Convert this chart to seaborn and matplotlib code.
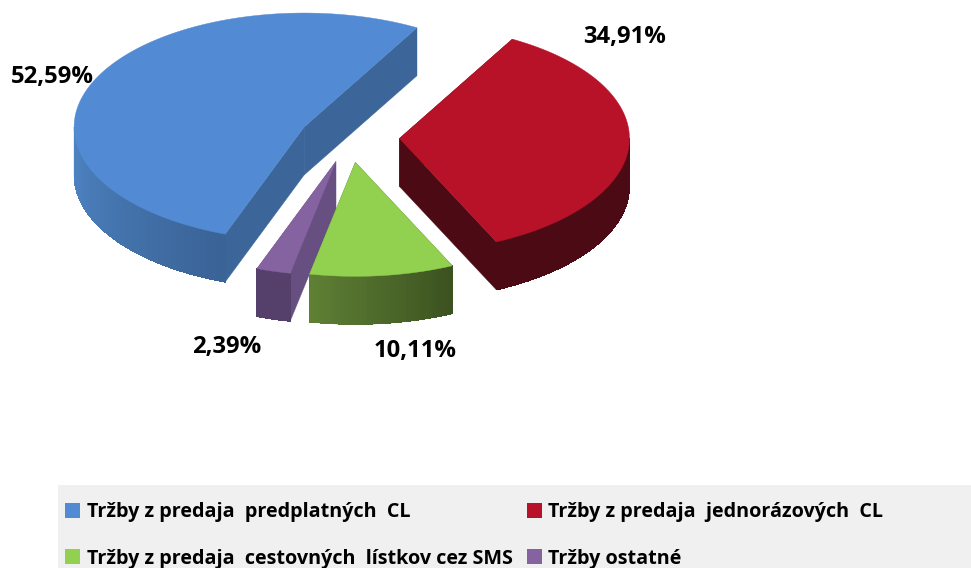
import numpy as np
import seaborn as sns
import matplotlib.pyplot as plt
from matplotlib.patches import Polygon, Rectangle, Patch
from matplotlib.colors import to_rgb

# values
labels = ['Tržby z predaja  predplatných  CL', 'Tržby z predaja  jednorázových  CL',
          'Tržby z predaja  cestovných  lístkov cez SMS', 'Tržby ostatné']
shares = [52.59, 34.91, 10.11, 2.39]
pct_text = ['52,59%', '34,91%', '10,11%', '2,39%']

top_colors = ['#528bd3', '#b81228', '#92d050', '#8463a0']
cut_colors = ['#3c6699', '#4c0a14', '#4f6f2c', '#674f82']
side_from = ['#4f86c6', '#4c0a14', '#5f8035', '#553f6b']  # left end of the visible rim
side_to = ['#3a6396', '#4c0a14', '#3b5220', '#553f6b']  # right end of the visible rim
label_pos = [(52, 77), (625, 37), (415, 351), (227, 347)]

# pie geometry in pixels
cx, cy = 349.5, 137.5
rx, ry = 230, 114
depth = 48
explode = 50
start_angle = 60.6

sns.set_theme(style='white')
plt.rcParams['font.family'] = ['Open Sans', 'DejaVu Sans']

fig = plt.figure(figsize=(9.71, 5.68), dpi=100)
ax = fig.add_axes([0, 0, 1, 1])
ax.set_xlim(0, 971)
ax.set_ylim(568, 0)
ax.axis('off')


def pt(c, ang):
    a = np.radians(ang)
    return np.array([c[0] + rx * np.cos(a), c[1] - ry * np.sin(a)])


def draw_slice(a0, a1, i, z):
    # a0 < a1 in degrees, counter clockwise
    mid = np.radians((a0 + a1) / 2)
    tip = np.array([cx + explode * np.cos(mid), cy - explode / 2 * np.sin(mid)])
    down = np.array([0, depth])
    cl, cr = np.array(to_rgb(side_from[i])), np.array(to_rgb(side_to[i]))

    # the two cut faces, the rim and top hide the ones facing away
    for a in (a0, a1):
        p = pt(tip, a)
        ax.add_patch(Polygon([tip, p, p + down, tip + down], closed=True, fc=cut_colors[i],
                             ec=cut_colors[i], lw=0.3, zorder=z))

    # outer rim, only the part facing the viewer
    lo, hi = max(a0, 180), min(a1, 360)
    steps = np.linspace(lo, hi, max(int(hi - lo), 2) + 1)
    rim = [pt(tip, s) for s in steps]
    base = rim + [p + down for p in rim[::-1]]
    ax.add_patch(Polygon(base, closed=True, fc=side_to[i], ec=side_to[i], lw=0.3, zorder=z + 0.1))
    for s0, s1 in zip(steps[:-1], steps[1:]):
        t = ((s0 + s1) / 2 - lo) / max(hi - lo, 1)
        col = cl + (cr - cl) * t
        p0, p1 = pt(tip, s0), pt(tip, s1)
        ax.add_patch(Polygon([p0, p1, p1 + down, p0 + down], closed=True, fc=col, ec='none',
                             antialiased=False, zorder=z + 0.2))

    # top surface
    arc = [pt(tip, s) for s in np.linspace(a0, a1, 200)]
    ax.add_patch(Polygon([tip] + arc, closed=True, fc=top_colors[i], ec=top_colors[i], lw=0.3, zorder=z + 0.3))


# blue runs counter clockwise from the start angle, the others clockwise
spans = [s / 100 * 360 for s in shares]
red_end = start_angle - spans[1]
green_end = red_end - spans[2]
purple_end = green_end - spans[3]
ranges = [(start_angle, start_angle + spans[0]),
          (red_end + 360, start_angle + 360),
          (green_end + 360, red_end + 360),
          (purple_end + 360, green_end + 360)]

for i, z in zip([0, 1, 3, 2], [2, 3, 4, 5]):
    draw_slice(ranges[i][0], ranges[i][1], i, z)

# data labels
for txt, (x, y) in zip(pct_text, label_pos):
    ax.text(x, y, txt, ha='center', va='center', fontsize=17.2, fontweight='bold', color='black', zorder=10)

# legend band
ax.add_patch(Rectangle((58, 485), 913, 83, fc='#f0f0f0', ec='none', zorder=1))
handles = [Patch(fc=c, ec='none') for c in top_colors]
# matplotlib fills columns first: left column blue+green, right column red+purple
order = [0, 2, 1, 3]
leg = ax.legend([handles[i] for i in order], [labels[i] for i in order], ncol=2, frameon=False,
                loc='lower left', bbox_to_anchor=(63 / 971, -2.5 / 568), borderaxespad=0, borderpad=0.1,
                handlelength=0.76, handleheight=0.8, handletextpad=0.35, columnspacing=0.7,
                labelspacing=1.35, labelcolor='black', prop={'size': 14.2, 'weight': 'bold'})
leg.set_zorder(11)

fig.savefig('out.png', dpi=100)
